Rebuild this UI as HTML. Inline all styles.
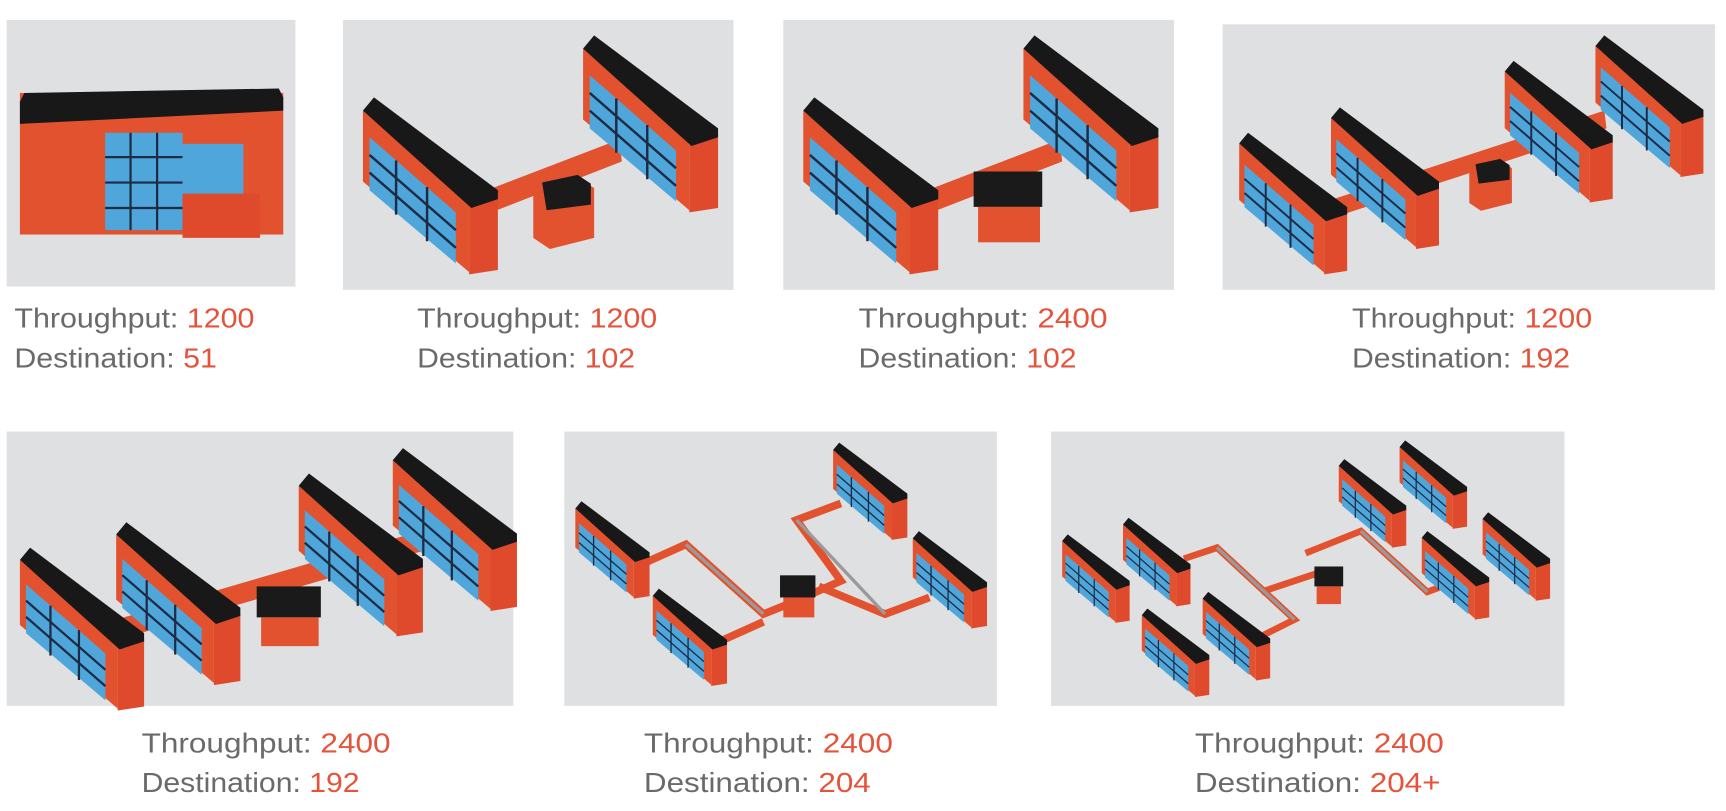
<!DOCTYPE html>
<html><head><meta charset="utf-8"><style>
html,body{margin:0;padding:0;background:#fff;}
svg{display:block}
text{font-family:"Liberation Sans",sans-serif;font-size:25.5px;fill:#6a6a6a}
.o{fill:#e5533b}
</style></head><body>
<svg width="1726" height="811" viewBox="0 0 1560 733" xmlns="http://www.w3.org/2000/svg">
<defs>
<g id="u">
 <polygon points="0,12 96,96 96,158 0,76" fill="#e2522f"/>
 <polygon points="6,36 84,104 84,150 6,84" fill="#4fa6da"/>
 <g stroke="#1d2b44" stroke-width="2.2" fill="none">
  <line x1="6" y1="52" x2="84" y2="120"/><line x1="6" y1="68" x2="84" y2="136"/>
  <line x1="30" y1="57" x2="30" y2="106"/><line x1="58" y1="81" x2="58" y2="130"/>
 </g>
 <polygon points="96,94 122,90 122,156 96,160" fill="#e04a2c"/>
 <polygon points="0,12 10,0 122,84 122,92 98,100" fill="#181818"/>
</g>
<g id="st">
 <polygon points="0,10 40,0 55,10 55,55 15,65 0,55" fill="#e2522f"/>
 <polygon points="8,5 40,-2 52,6 52,25 12,30" fill="#1a1a1a"/>
</g>
</defs>

<!-- Panel 1 -->
<rect x="6" y="18" width="261" height="241" fill="#dfe0e2"/>
<rect x="18" y="84" width="238" height="128" fill="#e2522f"/>
<polygon points="18,92 22,84 252,80 256,88 256,100 18,112" fill="#181818"/>
<rect x="95" y="120" width="70" height="88" fill="#4fa6da"/>
<g stroke="#1d2b44" stroke-width="2"><line x1="95" y1="142" x2="165" y2="142"/><line x1="95" y1="165" x2="165" y2="165"/><line x1="95" y1="188" x2="165" y2="188"/><line x1="118" y1="120" x2="118" y2="208"/><line x1="142" y1="120" x2="142" y2="208"/></g>
<rect x="165" y="130" width="55" height="60" fill="#4fa6da"/>
<rect x="165" y="175" width="70" height="40" fill="#e04a2c"/>

<!-- Panel 2 -->
<rect x="310" y="18" width="353" height="244" fill="#dfe0e2"/>
<polygon points="440,172 560,126 562,146 444,192" fill="#e2522f"/>
<use href="#u" x="328" y="88"/>
<use href="#u" x="527" y="32"/>
<use href="#st" x="482" y="160"/>

<!-- Panel 3 -->
<rect x="708" y="18" width="353" height="244" fill="#dfe0e2"/>
<polygon points="838,172 958,126 960,146 842,192" fill="#e2522f"/>
<use href="#u" x="726" y="88"/>
<use href="#u" x="925" y="32"/>
<rect x="880" y="155" width="62" height="32" fill="#1a1a1a"/>
<rect x="884" y="187" width="56" height="32" fill="#e2522f"/>

<!-- Panel 4 -->
<rect x="1105" y="22" width="445" height="240" fill="#dfe0e2"/>
<polygon points="1205,180 1450,100 1452,116 1207,196" fill="#e2522f"/>
<g transform="translate(1120,120) scale(0.8)"><use href="#u"/></g>
<g transform="translate(1203,97) scale(0.8)"><use href="#u"/></g>
<g transform="translate(1360,55) scale(0.8)"><use href="#u"/></g>
<g transform="translate(1442,32) scale(0.8)"><use href="#u"/></g>
<g transform="translate(1328,145) scale(0.7)"><use href="#st"/></g>

<!-- Panel 5 -->
<rect x="6" y="390" width="458" height="248" fill="#dfe0e2"/>
<polygon points="105,560 380,480 382,498 107,578" fill="#e2522f"/>
<g transform="translate(18,495) scale(0.92)"><use href="#u"/></g>
<g transform="translate(105,472) scale(0.92)"><use href="#u"/></g>
<g transform="translate(270,428) scale(0.92)"><use href="#u"/></g>
<g transform="translate(355,405) scale(0.92)"><use href="#u"/></g>
<rect x="232" y="530" width="58" height="28" fill="#1a1a1a"/>
<rect x="236" y="558" width="52" height="26" fill="#e2522f"/>

<!-- Panel 6 -->
<rect x="510" y="390" width="391" height="248" fill="#dfe0e2"/>
<g stroke="#e2522f" stroke-width="7" fill="none">
 <polyline points="580,510 620,492 690,555 715,545"/>
 <polyline points="715,545 760,525 720,470 760,455"/>
 <polyline points="740,530 800,555 840,540"/>
 <polyline points="650,580 690,562"/>
</g>
<g stroke="#9a9a9a" stroke-width="3" fill="none">
 <polyline points="620,492 690,555"/><polyline points="720,470 800,555"/>
</g>
<g transform="translate(520,453) scale(0.55)"><use href="#u"/></g>
<g transform="translate(590,532) scale(0.55)"><use href="#u"/></g>
<g transform="translate(753,400) scale(0.55)"><use href="#u"/></g>
<g transform="translate(825,480) scale(0.55)"><use href="#u"/></g>
<rect x="705" y="520" width="32" height="20" fill="#1a1a1a"/>
<rect x="708" y="540" width="28" height="18" fill="#e2522f"/>

<!-- Panel 7 -->
<rect x="950" y="390" width="464" height="248" fill="#dfe0e2"/>
<g stroke="#e2522f" stroke-width="6" fill="none">
 <polyline points="1070,505 1100,495 1170,560 1140,575"/>
 <polyline points="1140,535 1200,515"/>
 <polyline points="1180,500 1230,480 1290,535 1330,520"/>
</g>
<g stroke="#9a9a9a" stroke-width="3" fill="none">
 <polyline points="1100,495 1170,560"/><polyline points="1230,480 1290,535"/>
</g>
<g transform="translate(960,483) scale(0.5)"><use href="#u"/></g>
<g transform="translate(1015,468) scale(0.5)"><use href="#u"/></g>
<g transform="translate(1032,550) scale(0.5)"><use href="#u"/></g>
<g transform="translate(1087,535) scale(0.5)"><use href="#u"/></g>
<g transform="translate(1210,415) scale(0.5)"><use href="#u"/></g>
<g transform="translate(1265,398) scale(0.5)"><use href="#u"/></g>
<g transform="translate(1285,480) scale(0.5)"><use href="#u"/></g>
<g transform="translate(1340,463) scale(0.5)"><use href="#u"/></g>
<rect x="1188" y="512" width="26" height="18" fill="#1a1a1a"/>
<rect x="1190" y="530" width="22" height="16" fill="#e2522f"/>

<!-- Labels -->
<text x="13" y="296" textLength="217" lengthAdjust="spacingAndGlyphs">Throughput: <tspan class="o">1200</tspan></text>
<text x="13" y="332" textLength="183" lengthAdjust="spacingAndGlyphs">Destination: <tspan class="o">51</tspan></text>
<text x="377" y="296" textLength="217" lengthAdjust="spacingAndGlyphs">Throughput: <tspan class="o">1200</tspan></text>
<text x="377" y="332" textLength="197" lengthAdjust="spacingAndGlyphs">Destination: <tspan class="o">102</tspan></text>
<text x="776" y="296" textLength="225" lengthAdjust="spacingAndGlyphs">Throughput: <tspan class="o">2400</tspan></text>
<text x="776" y="332" textLength="197" lengthAdjust="spacingAndGlyphs">Destination: <tspan class="o">102</tspan></text>
<text x="1222" y="296" textLength="217" lengthAdjust="spacingAndGlyphs">Throughput: <tspan class="o">1200</tspan></text>
<text x="1222" y="332" textLength="197" lengthAdjust="spacingAndGlyphs">Destination: <tspan class="o">192</tspan></text>

<text x="128" y="680" textLength="225" lengthAdjust="spacingAndGlyphs">Throughput: <tspan class="o">2400</tspan></text>
<text x="128" y="716" textLength="197" lengthAdjust="spacingAndGlyphs">Destination: <tspan class="o">192</tspan></text>
<text x="582" y="680" textLength="225" lengthAdjust="spacingAndGlyphs">Throughput: <tspan class="o">2400</tspan></text>
<text x="582" y="716" textLength="205" lengthAdjust="spacingAndGlyphs">Destination: <tspan class="o">204</tspan></text>
<text x="1080" y="680" textLength="225" lengthAdjust="spacingAndGlyphs">Throughput: <tspan class="o">2400</tspan></text>
<text x="1080" y="716" textLength="222" lengthAdjust="spacingAndGlyphs">Destination: <tspan class="o">204+</tspan></text>
</svg>
</body></html>
